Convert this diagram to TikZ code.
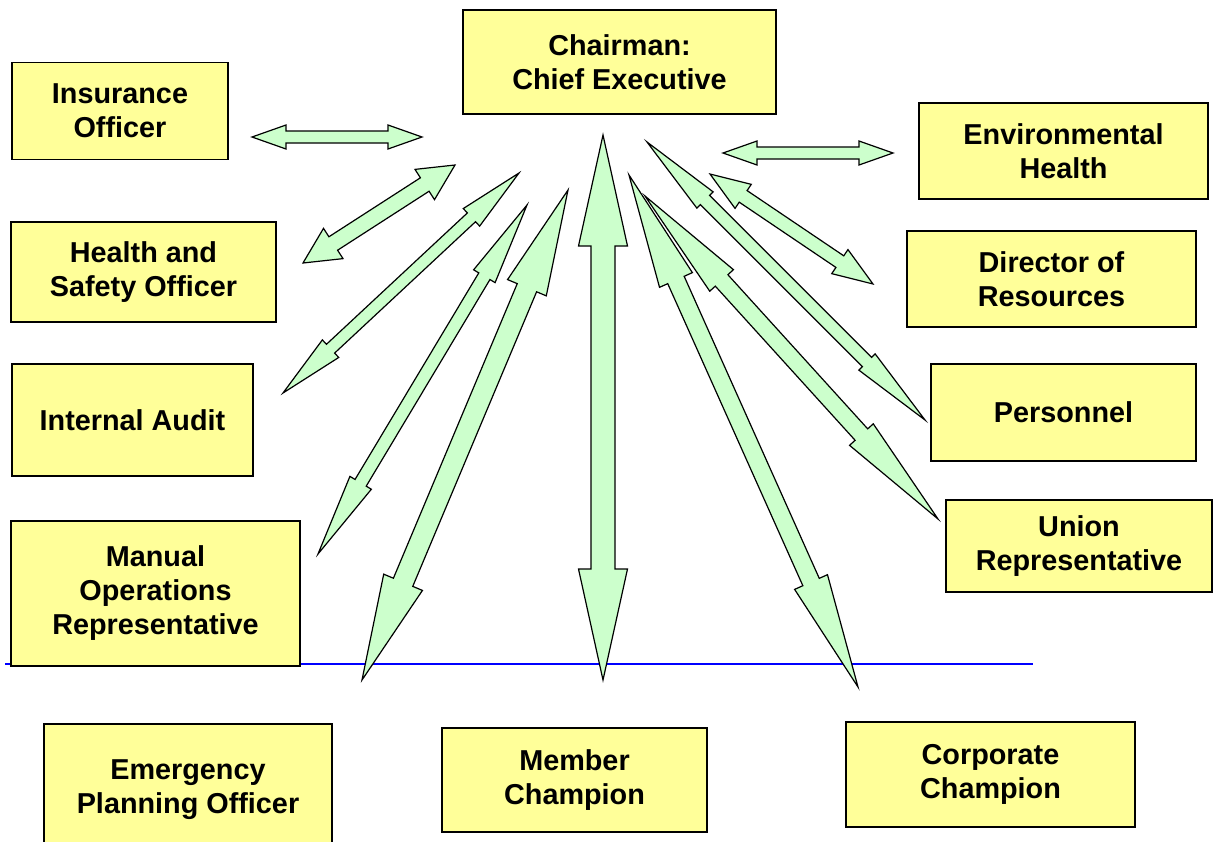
\documentclass[tikz,border=0pt]{standalone}
\usepackage{fontspec}
\setmainfont{Liberation Sans}
\usetikzlibrary{calc}
\definecolor{boxyellow}{HTML}{FFFF99}
\definecolor{arrowgreen}{HTML}{CCFFCC}
% two-headed block arrow: from, to, half shaft, half head, head length
\newcommand\linkarrow[5]{%
  \draw[twoway] (#1) -- ($(#1)!#5!(#2)!#4!90:(#2)$) -- ($(#1)!#5!(#2)!#3!90:(#2)$)
    -- ($(#2)!#5!(#1)!#3!-90:(#1)$) -- ($(#2)!#5!(#1)!#4!-90:(#1)$) -- (#2)
    -- ($(#2)!#5!(#1)!#4!90:(#1)$) -- ($(#2)!#5!(#1)!#3!90:(#1)$)
    -- ($(#1)!#5!(#2)!#3!-90:(#2)$) -- ($(#1)!#5!(#2)!#4!-90:(#2)$) -- cycle;}

\begin{document}
\begin{tikzpicture}[x=0.5pt, y=-0.5pt,
  unit/.style={draw=black, fill=boxyellow, line width=0.8pt, inner sep=0pt,
    align=center, font=\bfseries\fontsize{14.4}{17}\selectfont},
  twoway/.style={draw=black, fill=arrowgreen, line width=0.6pt, line join=miter}]
\useasboundingbox (0,0) rectangle (1215,841);

  % dividing line
  \draw[blue, line width=1pt] (5,663.5) -- (1033,663.5);

  % arrow ends
  \coordinate (insA) at (252,137);  \coordinate (insB) at (422,137);
  \coordinate (envA) at (723,153);  \coordinate (envB) at (893,153);
  \coordinate (hsA) at (303,263);   \coordinate (hsB) at (455,165);
  \coordinate (iaA) at (283,393);   \coordinate (iaB) at (519,173);
  \coordinate (moA) at (318,554);   \coordinate (moB) at (527,205);
  \coordinate (epA) at (362,680);   \coordinate (epB) at (568,190);
  \coordinate (mcA) at (603,680);   \coordinate (mcB) at (603,135);
  \coordinate (ccA) at (858,687);   \coordinate (ccB) at (629,175);
  \coordinate (urA) at (938,519);   \coordinate (urB) at (645,196);
  \coordinate (persA) at (925,420); \coordinate (persB) at (647,142);
  \coordinate (dirA) at (873,284);  \coordinate (dirB) at (710,174);

  % arrows
  \linkarrow{insA}{insB}{3pt}{6pt}{17pt}
  \linkarrow{envA}{envB}{3pt}{6pt}{17pt}
  \linkarrow{hsA}{hsB}{4pt}{9pt}{18pt}
  \linkarrow{iaA}{iaB}{3pt}{6pt}{32.5pt}
  \linkarrow{moA}{moB}{3.25pt}{6.25pt}{41.5pt}
  \linkarrow{epA}{epB}{5.25pt}{10.5pt}{53pt}
  \linkarrow{mcA}{mcB}{6pt}{12.25pt}{55.5pt}
  \linkarrow{ccA}{ccB}{4.5pt}{9pt}{57.5pt}
  \linkarrow{urA}{urB}{4.25pt}{8pt}{57pt}
  \linkarrow{persA}{persB}{3.25pt}{5.75pt}{41pt}
  \linkarrow{dirA}{dirB}{3.5pt}{7.25pt}{20pt}

  % boxes
  \node[unit, minimum width=156.5pt, minimum height=52pt] (chair) at (619.5,62) {Chairman:\\Chief Executive};
  \node[unit, minimum width=108pt, minimum height=48.5pt] (ins) at (120,111) {Insurance\\Officer};
  \node[unit, minimum width=132.5pt, minimum height=50pt] (hs) at (143.5,272) {Health and\\Safety Officer};
  \node[unit, minimum width=120.5pt, minimum height=56pt] (ia) at (132.5,420) {Internal Audit};
  \node[unit, minimum width=144.5pt, minimum height=72.5pt] (mo) at (155.5,593.5) {Manual\\Operations\\Representative};
  \node[unit, minimum width=144pt, minimum height=66pt] (ep) at (188,790) {Emergency\\Planning Officer};
  \node[unit, minimum width=132.5pt, minimum height=52pt] (mc) at (574.5,780) {Member\\Champion};
  \node[unit, minimum width=144.5pt, minimum height=52.5pt] (cc) at (990.5,774.5) {Corporate\\Champion};
  \node[unit, minimum width=144.5pt, minimum height=48pt] (env) at (1063.5,151) {Environmental\\Health};
  \node[unit, minimum width=144.5pt, minimum height=48pt] (dir) at (1051.5,279) {Director of\\Resources};
  \node[unit, minimum width=132.5pt, minimum height=48.5pt] (pers) at (1063.5,412.5) {Personnel};
  \node[unit, minimum width=133pt, minimum height=46pt] (ur) at (1079,546) {Union\\Representative};
\end{tikzpicture}
\end{document}
